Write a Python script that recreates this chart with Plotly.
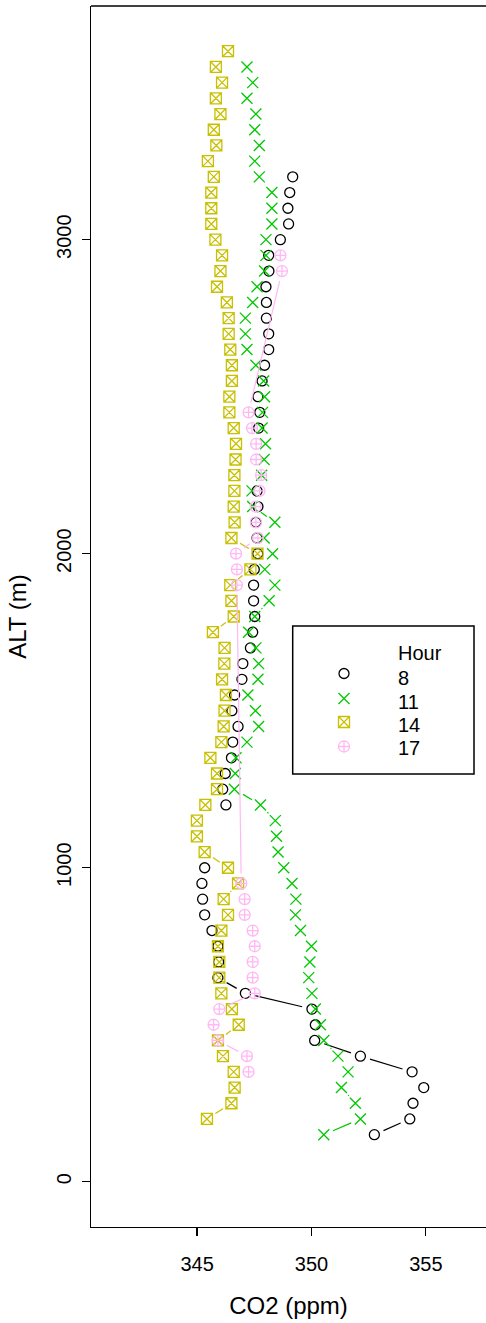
import math
import plotly.graph_objects as go

# ---------------- data ----------------
alt_8 = [3200, 3150, 3100, 3050, 3000, 2950, 2900, 2850, 2800, 2750, 2700, 2650, 2600, 2550,
         2500, 2450, 2400, 2350, 2300, 2250, 2200, 2150, 2100, 2050, 2000, 1950, 1900, 1850,
         1800, 1750, 1700, 1650, 1600, 1550, 1500, 1450, 1400, 1350, 1300, 1250, 1200, 1150,
         1100, 1050, 1000, 950, 900, 850, 800, 750, 700, 650, 600, 550, 500, 450, 400, 350,
         300, 250, 200, 150]
co2_8 = [349.18, 349.05, 348.97, 349.00, 348.64, 348.13, 348.14, 348.01, 348.03, 348.03, 348.13,
         348.13, 347.95, 347.84, 347.66, 347.74, 347.69, None, None, None, 347.62, 347.66,
         347.57, 347.62, 347.65, 347.50, 347.47, 347.47, 347.52, 347.43, 347.33, 347.00, 346.96,
         346.64, 346.52, 346.79, 346.56, 346.50, 346.23, 346.12, 346.26, None, None, None,
         345.33, 345.21, 345.24, 345.33, 345.65, 345.91, 345.94, 345.91, 347.11, 350.02, 350.17,
         350.14, 352.14, 354.40, 354.91, 354.44, 354.30, 352.75]

alt_11 = [3550, 3500, 3450, 3400, 3350, 3300, 3250, 3200, 3150, 3100, 3050, 3000, 2950, 2900,
          2850, 2800, 2750, 2700, 2650, 2600, 2550, 2500, 2450, 2400, 2350, 2300, 2250, 2200,
          2150, 2100, 2050, 2000, 1950, 1900, 1850, 1800, 1750, 1700, 1650, 1600, 1550, 1500,
          1450, 1400, 1350, 1300, 1250, 1200, 1150, 1100, 1050, 1000, 950, 900, 850, 800, 750,
          700, 650, 600, 550, 500, 450, 400, 350, 300, 250, 200, 150]
co2_11 = [347.18, 347.43, 347.18, 347.57, 347.52, 347.72, 347.52, 347.72, 348.27, 348.27, 348.27,
          348.01, 348.01, 347.95, 347.62, 347.43, 347.11, 347.11, 347.18, 347.57, 347.91, 347.95,
          347.86, 347.84, 347.99, 347.93, 347.82, 347.40, 347.43, 348.40, 347.93, 348.30, 347.96,
          348.40, 348.15, 347.52, 347.25, 347.57, 347.69, 347.66, 347.22, 347.55, 347.69, 347.18,
          346.70, 346.67, 346.63, 347.77, 348.42, 348.47, 348.54, 348.79, 349.15, 349.32, 349.30,
          349.52, 350.00, 349.93, 349.88, 350.02, 350.17, 350.39, 350.54, 351.16, 351.60, 351.31,
          351.92, 352.14, 350.54]

alt_14 = [3600, 3550, 3500, 3450, 3400, 3350, 3300, 3250, 3200, 3150, 3100, 3050, 3000, 2950,
          2900, 2850, 2800, 2750, 2700, 2650, 2600, 2550, 2500, 2450, 2400, 2350, 2300, 2250,
          2200, 2150, 2100, 2050, 2000, 1950, 1900, 1850, 1800, 1750, 1700, 1650, 1600, 1550,
          1500, 1450, 1400, 1350, 1300, 1250, 1200, 1150, 1100, 1050, 1000, 950, 900, 850, 800,
          750, 700, 650, 600, 550, 500, 450, 400, 350, 300, 250, 200]
co2_14 = [346.35, 345.82, 346.09, 345.82, 346.02, 345.73, 345.84, 345.47, 345.73, 345.62, 345.62,
          345.62, 345.80, 346.09, 346.02, 345.87, 346.30, 346.38, 346.38, 346.45, 346.52, 346.52,
          346.41, 346.41, 346.60, 346.70, 346.68, 346.63, 346.63, 346.60, 346.64, 346.50, 347.64,
          347.33, 346.45, 346.50, 346.60, 345.69, 346.20, 346.19, 346.09, 346.26, 346.20, 346.16,
          346.06, 345.58, 345.87, 345.87, 345.36, 344.99, 344.99, 345.33, 346.35, 346.79, 346.16,
          346.35, 346.06, 345.91, 345.97, 345.97, 346.06, 346.52, 346.82, 345.91, 346.13, 346.60,
          346.64, 346.50, 345.43]

alt_17 = [2950, 2900, 2450, 2400, 2350, 2300, 2250, 2200, 2150, 2100, 2050, 2000, 1950, 1900,
          950, 900, 850, 800, 750, 700, 650, 600, 550, 500, 450, 400, 350]
co2_17 = [348.64, 348.71, 347.25, 347.40, 347.58, 347.58, 347.80, 347.73, 347.56, 347.57, 347.66,
          346.70, 346.74, 346.74, 346.93, 347.08, 347.08, 347.43, 347.52, 347.43, 347.43, 347.52,
          345.97, 345.72, 345.91, 347.18, 347.25]

hours = ["8", "11", "14", "17"]
x_ticks = [345, 350, 355]
y_ticks = [0, 1000, 2000, 3000]

# ---------------- layout constants ----------------
W, H = 486, 1323
ML, MR, MT, MB = 91, 0, 6, 96
PW, PH = W - ML - MR, H - MT - MB
XR = [340.36, 340.36 + PW / 22.87]
YR = [-144, 3744]
FONT = "Liberation Sans, Arial, Helvetica, sans-serif"
FS = 20

series = [
    dict(name=hours[0], x=co2_8, y=alt_8, color="#000000", symbol="circle-open", size=10),
    dict(name=hours[1], x=co2_11, y=alt_11, color="#00C800", symbol="x-thin-open", size=11),
    dict(name=hours[2], x=co2_14, y=alt_14, color="#C8C000", symbol="square-x-open", size=11),
    dict(name=hours[3], x=co2_17, y=alt_17, color="#FFB8F4", symbol="circle-cross-open", size=11),
]

GAP = 10.0  # px gap around each point (R type="b")


def gapped(xs, ys):
    sx = PW / (XR[1] - XR[0])
    sy = PH / (YR[1] - YR[0])
    ox, oy = [], []
    for i in range(len(xs) - 1):
        x0, y0, x1, y1 = xs[i], ys[i], xs[i + 1], ys[i + 1]
        if x0 is None or x1 is None:
            continue
        dx, dy = (x1 - x0) * sx, (y1 - y0) * sy
        d = math.hypot(dx, dy)
        if d <= 2 * GAP:
            continue
        f = GAP / d
        ox += [x0 + (x1 - x0) * f, x1 - (x1 - x0) * f, None]
        oy += [y0 + (y1 - y0) * f, y1 - (y1 - y0) * f, None]
    return ox, oy


fig = go.Figure()
for s in series:
    lx, ly = gapped(s["x"], s["y"])
    fig.add_trace(go.Scatter(x=lx, y=ly, mode="lines", line=dict(color=s["color"], width=1.2),
                             showlegend=False, hoverinfo="skip"))
    fig.add_trace(go.Scatter(x=s["x"], y=s["y"], mode="markers", name=s["name"], showlegend=False,
                             marker=dict(symbol=s["symbol"], size=s["size"], color=s["color"],
                                         line=dict(color=s["color"], width=1.3))))

# ---------------- legend (drawn manually, R style) ----------------
def px2paper_x(px):
    return (px - ML) / PW


def px2paper_y(py):
    return (H - MB - py) / PH


leg_sym_x = px2paper_x(344)
leg_sym_y = [px2paper_y(v) for v in (673.5, 698.5, 722, 746.5)]
for s, yy in zip(series, leg_sym_y):
    fig.add_trace(go.Scatter(x=[leg_sym_x], y=[yy], xaxis="x2", yaxis="y2", mode="markers",
                             showlegend=False, hoverinfo="skip",
                             marker=dict(symbol=s["symbol"], size=s["size"], color=s["color"],
                                         line=dict(color=s["color"], width=1.3))))

fig.add_shape(type="rect", xref="paper", yref="paper",
              x0=px2paper_x(292.7), x1=px2paper_x(474), y0=px2paper_y(774), y1=px2paper_y(626),
              line=dict(color="black", width=1.5), fillcolor="rgba(0,0,0,0)")
leg_text_x = px2paper_x(396)
leg_texts = ["Hour"] + hours
leg_text_y = [652.5, 678, 701.7, 725, 748]
for t, yy in zip(leg_texts, leg_text_y):
    fig.add_annotation(x=leg_text_x, y=px2paper_y(yy), xref="paper", yref="paper", text=t,
                       showarrow=False, xanchor="left", yanchor="middle",
                       font=dict(family=FONT, size=FS, color="black"))

# top border line of the box
fig.add_shape(type="line", xref="paper", yref="paper", x0=0, x1=1, y0=1, y1=1,
              line=dict(color="black", width=1.3))

fig.update_layout(
    width=W, height=H,
    margin=dict(l=ML, r=MR, t=MT, b=MB, pad=0, autoexpand=False),
    paper_bgcolor="white", plot_bgcolor="white",
    font=dict(family=FONT, size=FS, color="black"),
    showlegend=False,
    xaxis=dict(range=XR, tickmode="array", tickvals=x_ticks, ticks="outside", ticklen=8,
               tickwidth=1.3, tickcolor="black", showgrid=False, zeroline=False,
               showline=True, linecolor="black", linewidth=1.3, automargin=False,
               title=dict(text="CO2 (ppm)", standoff=23), tickfont=dict(size=FS),
               ticklabelstandoff=11),
    yaxis=dict(range=YR, tickmode="array", tickvals=y_ticks, ticks="outside", ticklen=8,
               tickwidth=1.3, tickcolor="black", showgrid=False, zeroline=False,
               showline=True, linecolor="black", linewidth=1.3, tickangle=-90, automargin=False,
               title=dict(text="ALT (m)", standoff=19), tickfont=dict(size=FS),
               ticklabelstandoff=3),
    xaxis2=dict(overlaying="x", range=[0, 1], visible=False, fixedrange=True),
    yaxis2=dict(overlaying="y", range=[0, 1], visible=False, fixedrange=True),
)

fig.write_html("out.html",
               config={"displayModeBar": False, "staticPlot": True},
               post_script="document.body.style.margin='0';document.body.style.padding='0';"
                           "document.body.style.overflow='hidden';")
